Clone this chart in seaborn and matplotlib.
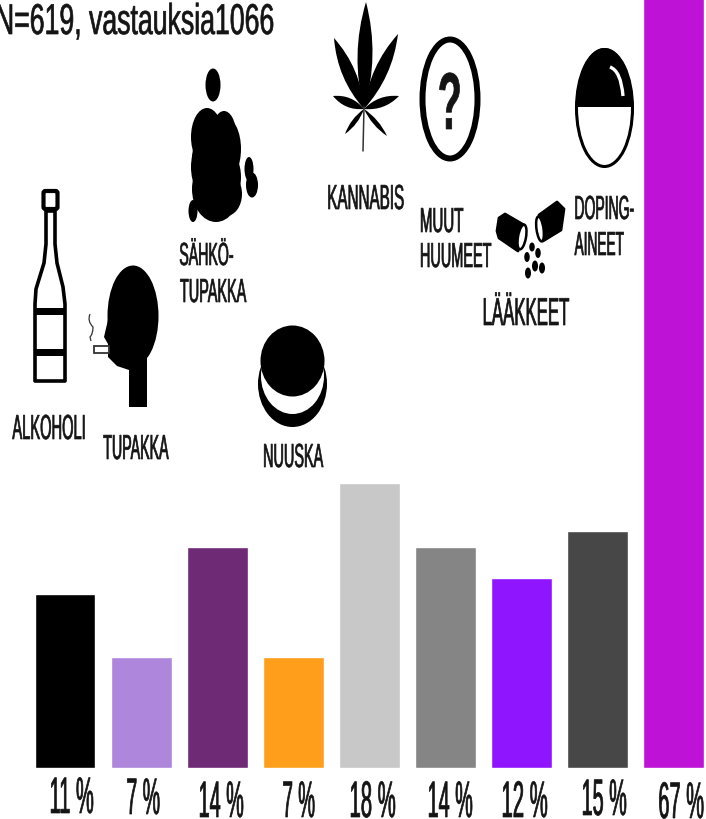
import numpy as np
import pandas as pd
import matplotlib
matplotlib.use("Agg")
import matplotlib.pyplot as plt
import seaborn as sns
from matplotlib.patches import Ellipse, Polygon, PathPatch, Rectangle, FancyBboxPatch
from matplotlib.path import Path
from matplotlib.patheffects import AbstractPathEffect
from matplotlib.transforms import Affine2D

# ----------------------------------------------------------------------
# Data
# ----------------------------------------------------------------------
CATEGORIES = ["Alkoholi", "Tupakka", "Sähkötupakka", "Nuuska", "Kannabis",
              "Muut huumeet", "Lääkkeet", "Dopingaineet", "Ei merkintää"]
VALUES = [11, 7, 14, 7, 18, 14, 12, 15, 67]
COLORS = ["#000000", "#AE86DB", "#6E2A75", "#FF9E1B", "#C8C8C8",
          "#858585", "#8F14FF", "#474747", "#BE12D6"]
HEADER = "N=619, vastauksia1066"

INK = "#141414"
FONT = ["Liberation Sans Narrow", "Liberation Sans", "DejaVu Sans"]


class FitWidth(AbstractPathEffect):
    """Squeeze the text horizontally so it ends up a given number of pixels wide."""

    def __init__(self, width, stroke=0.5):
        super().__init__()
        self.width = width
        self.stroke = stroke

    def draw_path(self, renderer, gc, tpath, affine, rgbFace=None):
        ext = tpath.get_extents()
        k = self.width / (ext.width * affine.get_matrix()[0, 0])
        mid = ext.x0 + ext.width / 2
        squeeze = Affine2D().translate(-mid, 0).scale(k, 1).translate(mid, 0)
        gc.set_linewidth(self.stroke)
        gc.set_foreground(INK)
        renderer.draw_path(gc, tpath, squeeze + affine, rgbFace)


def label(ax, text, x0, x1, base, size, **kw):
    ax.text((x0 + x1) / 2, base, text, ha="center", va="baseline", fontsize=size,
            color=INK, family=FONT, path_effects=[FitWidth(x1 - x0)], **kw)


def leaflet(ax, base, tip, hw):
    base, tip = np.array(base, float), np.array(tip, float)
    d = tip - base
    n = np.array([-d[1], d[0]]) / np.hypot(*d)
    c1 = base + d * 0.5 + n * hw * 2
    c2 = base + d * 0.5 - n * hw * 2
    path = Path([base, c1, tip, c2, base],
                [Path.MOVETO, Path.CURVE3, Path.CURVE3, Path.CURVE3, Path.CURVE3])
    ax.add_patch(PathPatch(path, fc="black", ec="none"))


def draw_icons(ax):
    # bottle
    ax.add_patch(FancyBboxPatch((43.5, 192), 14, 18, boxstyle="round,pad=0,rounding_size=2",
                                fc="white", ec="black", lw=3))
    bottle = [(46, 212), (46, 245), (44, 264), (36, 290), (35, 305), (35, 382),
              (65, 382), (65, 305), (63, 288), (57, 264), (55, 245), (55, 212)]
    ax.add_patch(Polygon(bottle, closed=True, fc="white", ec="black", lw=2.6, joinstyle="round"))
    ax.add_patch(Rectangle((35, 309), 30, 6.5, fc="black", ec="none"))
    ax.add_patch(Rectangle((35, 350), 30, 7, fc="black", ec="none"))

    # smoker's head
    ax.add_patch(Ellipse((133, 317), 51, 101, fc="black", ec="none"))
    head = [(114, 295), (104, 338), (108, 345), (108, 358), (117, 367), (129, 371),
            (129, 408), (147, 408), (147, 355)]
    ax.add_patch(Polygon(head, closed=True, fc="black", ec="none"))
    ax.add_patch(Rectangle((94, 347), 15, 7, fc="white", ec="#333333", lw=1.3))
    smoke = Path([(90, 315), (87, 322), (93, 328), (93, 335), (90, 338), (91, 342)],
                 [Path.MOVETO, Path.CURVE3, Path.CURVE3, Path.CURVE3, Path.CURVE3, Path.LINETO])
    ax.add_patch(PathPatch(smoke, fc="none", ec="#333333", lw=0.9))

    # e-cigarette cloud
    for x, y, w, h in [(213, 86, 15, 33), (207, 138, 32, 58), (224, 135, 24, 46),
                       (226, 150, 30, 62), (209, 168, 36, 64), (216, 190, 48, 66),
                       (226, 195, 32, 44), (212, 160, 40, 60), (228, 178, 26, 50),
                       (249, 170, 9, 24), (252, 186, 12, 25), (193, 212, 9, 22)]:
        ax.add_patch(Ellipse((x, y), w, h, fc="black", ec="none"))

    # snus can
    ax.add_patch(Ellipse((292.5, 385), 69, 86, fc="black", ec="none"))
    ax.add_patch(Ellipse((292.5, 377), 63, 76, fc="white", ec="none"))
    ax.add_patch(Ellipse((292.5, 362), 64, 71, fc="black", ec="none"))

    # cannabis leaf
    centre = (364, 110)
    for tip, hw in [((366, 3), 7.5), ((398, 35), 6.5), ((334, 39), 6.5), ((399, 97), 4.5),
                    ((333, 97), 4.5), ((387, 137), 2.5), ((345, 135), 2.5)]:
        leaflet(ax, centre, tip, hw)
    ax.plot([364, 363], [108, 152], color="#333333", lw=1.1)

    # question mark
    ax.add_patch(Ellipse((450, 100), 55, 119, fc="white", ec="black", lw=4.3))
    label(ax, "?", 440, 460, 130, 58, fontweight="bold")

    # pills
    left_pill = [(499, 219), (505, 215), (524, 226), (518, 252), (499, 239), (497, 232)]
    right_pill = [(539, 216), (557, 203), (564, 210), (561, 231), (543, 242)]
    ax.add_patch(Polygon(left_pill, closed=True, fc="black", ec="black", lw=2, joinstyle="round"))
    ax.add_patch(Polygon(right_pill, closed=True, fc="black", ec="black", lw=2, joinstyle="round"))
    ax.add_patch(Ellipse((522, 238), 8, 25, angle=10, fc="white", ec="black", lw=1.8))
    ax.add_patch(Ellipse((540, 230), 7, 25, angle=-8, fc="white", ec="black", lw=1.8))
    for x, y, w, h in [(532, 248, 5.5, 9), (538, 254, 5.5, 10), (527, 258, 5.5, 10),
                       (535, 267, 6, 11), (542, 269, 6, 11), (528, 274, 6, 11)]:
        ax.add_patch(Ellipse((x, y), w, h, fc="black", ec="none"))

    # doping capsule
    t = np.linspace(0, np.pi, 80)
    ax.add_patch(Ellipse((604.5, 109), 56, 117, fc="white", ec="black", lw=2.2))
    ax.add_patch(Polygon(np.c_[604.5 + 28.5 * np.cos(t), 108 - 59 * np.sin(t)], closed=True,
                         fc="black", ec="none"))
    shine = Path([(610, 68), (621, 72), (623, 97)], [Path.MOVETO, Path.CURVE3, Path.CURVE3])
    ax.add_patch(PathPatch(shine, fc="none", ec="white", lw=2.4))


def draw_chart():
    sns.set_theme(style="white")
    fig = plt.figure(figsize=(7.06, 8.2), dpi=100, facecolor="white")

    df = pd.DataFrame({"category": CATEGORIES, "value": VALUES})
    ax = fig.add_axes([0, 0, 1, 1])
    sns.barplot(data=df, x="category", y="value", hue="category", palette=COLORS,
                saturation=1, width=0.8, legend=False, ax=ax)
    ax.set_xlim(-0.855, 8.423)
    ax.set_ylim(-3.24, 48.65)
    ax.axis("off")

    over = fig.add_axes([0, 0, 1, 1], facecolor="none")
    over.set_xlim(0, 706)
    over.set_ylim(820, 0)
    over.axis("off")

    draw_icons(over)

    label(over, HEADER, -4, 272, 35, 31)

    label(over, "ALKOHOLI", 14, 86, 440, 25)
    label(over, "TUPAKKA", 103, 168, 460, 25)
    label(over, "SÄHKÖ-", 180, 233, 266, 23)
    label(over, "TUPAKKA", 180, 246, 303, 24)
    label(over, "NUUSKA", 263, 322, 468, 24)
    label(over, "KANNABIS", 328, 403, 210, 25)
    label(over, "MUUT", 420, 462, 233, 25)
    label(over, "HUUMEET", 420, 490, 268, 25)
    label(over, "DOPING-", 575, 633, 220, 24)
    label(over, "AINEET", 575, 624, 256, 24)
    label(over, "LÄÄKKEET", 483, 568, 326, 28)

    spans = [(50, 92), (127, 159), (199, 242), (283, 314), (350, 394),
             (428, 471), (502, 546), (582, 625), (659, 703)]
    bases = [814, 815, 818, 818, 818, 818, 818, 816, 819]
    for v, (x0, x1), base in zip(VALUES, spans, bases):
        label(over, f"{v} %", x0, x1, base, 37)

    fig.savefig("out.png", dpi=100)


if __name__ == "__main__":
    draw_chart()
